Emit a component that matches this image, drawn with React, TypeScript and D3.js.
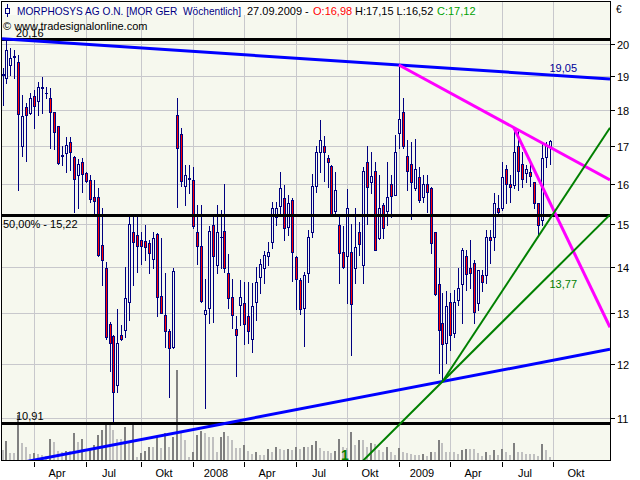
import React from "react";
import * as d3 from "d3";

// weekly candles, first week starts Monday 29.01.2007
const firstWeek = new Date(2007, 0, 29);

const opens = [19.02,18.93,19.34,19.58,19.43,16.98,18.08,17.90,18.41,18.27,
  18.63,18.50,18.34,17.93,17.53,16.72,16.80,17.11,16.69,16.22,
  16.57,16.28,16.09,15.65,15.65,14.51,13.99,12.78,12.54,11.60,
  12.56,12.66,13.25,14.80,14.74,14.61,14.60,14.54,14.18,14.76,
  13.37,12.97,12.65,12.33,17.86,17.32,15.94,16.15,16.09,14.82,
  14.47,12.98,13.11,14.97,14.05,14.68,14.83,13.86,13.34,12.69,
  13.18,13.21,12.95,12.48,13.25,13.79,13.99,14.26,14.57,15.16,
  15.44,15.64,14.92,15.58,14.22,13.72,13.11,13.88,14.82,15.94,
  16.82,16.99,16.66,16.45,15.31,14.97,14.35,14.26,14.35,13.99,
  14.80,14.05,16.55,16.05,16.32,14.66,15.47,15.32,15.98,15.72,
  17.34,17.95,16.71,16.52,15.89,16.16,15.65,15.98,15.89,14.80,
  13.62,12.80,12.40,13.25,12.61,13.29,13.63,14.24,13.99,14.09,
  13.22,13.83,13.82,14.70,14.70,15.38,15.39,16.39,15.99,15.96,
  16.99,16.50,16.28,16.30,16.05,15.50,15.09,16.69,16.98];

const highs = [19.24,20.16,19.87,19.81,19.66,18.43,18.19,18.49,18.58,18.83,
  18.96,18.68,18.65,17.95,17.55,16.98,17.25,17.23,16.73,16.64,
  16.66,16.30,16.22,16.09,15.88,15.38,14.12,12.83,12.56,13.10,
  12.76,14.01,15.17,15.17,15.17,14.82,14.97,14.62,14.82,14.78,
  14.66,13.86,12.69,13.98,18.34,17.48,16.49,16.48,16.43,15.46,
  15.46,13.73,14.94,15.17,15.47,15.34,16.00,14.29,13.73,12.94,
  13.72,13.68,13.68,13.65,14.01,14.18,14.36,14.58,15.54,15.54,
  16.30,15.96,15.71,15.63,14.24,13.75,13.89,14.86,16.26,17.00,
  17.71,17.27,16.75,16.48,16.30,15.17,14.94,15.86,14.99,15.40,
  15.05,16.43,16.98,16.84,16.57,16.22,15.50,16.57,16.22,17.29,
  19.34,18.34,17.16,17.11,17.17,16.43,16.22,16.22,15.92,14.82,
  13.97,13.43,13.47,13.43,13.50,13.97,14.43,14.39,14.62,14.16,
  13.93,13.93,14.86,14.86,15.75,15.71,16.57,16.48,16.22,17.50,
  17.40,16.84,16.48,16.57,16.05,15.50,17.07,17.11,17.15];

const lows = [18.14,18.78,19.04,18.93,15.83,16.71,16.59,17.88,17.48,17.86,
  17.90,18.34,16.95,16.91,16.52,16.48,16.30,16.35,15.29,15.38,
  15.79,16.05,15.54,15.21,14.24,13.61,12.49,11.85,10.91,11.46,
  12.46,12.53,12.87,13.61,13.90,14.08,14.16,13.88,13.97,12.94,
  13.00,12.32,11.37,12.30,15.42,15.94,15.46,15.75,14.90,14.08,
  13.25,11.17,12.80,12.82,13.86,13.97,13.90,13.11,12.70,11.77,
  12.76,12.38,12.40,12.22,12.87,13.43,13.65,14.05,14.43,14.97,
  15.25,14.62,14.74,13.70,13.10,12.99,12.35,13.68,14.70,15.79,
  16.30,16.07,15.92,15.21,15.21,13.65,13.97,13.21,12.17,13.64,
  14.27,13.64,15.01,15.75,14.39,14.65,14.66,14.97,15.17,15.71,
  16.95,16.93,15.83,15.13,15.83,15.54,15.54,15.29,14.31,13.40,
  11.82,11.66,12.01,12.26,12.53,13.18,12.80,13.50,13.54,12.80,
  13.08,13.47,13.64,14.09,14.39,15.21,15.33,15.50,15.54,15.88,
  15.83,15.92,16.05,15.94,15.38,14.74,14.97,16.43,16.52];

const closes = [19.06,19.81,19.55,19.63,17.88,17.83,17.86,18.34,18.10,18.68,
  18.66,18.48,17.93,17.38,16.54,16.74,17.02,16.82,16.13,16.52,
  16.26,16.07,15.60,15.56,14.27,14.16,12.53,12.40,11.46,12.40,
  12.49,13.32,15.01,14.58,14.47,14.49,14.46,14.33,14.66,13.34,
  13.02,12.64,12.30,13.91,16.93,16.07,16.22,16.11,14.96,14.49,
  13.27,13.07,14.83,14.26,14.80,14.70,13.97,13.32,12.97,12.56,
  13.34,12.78,12.65,13.15,13.68,14.06,14.27,14.35,15.38,15.38,
  15.88,14.90,15.50,14.35,13.74,13.09,13.83,14.69,15.93,16.82,
  17.15,16.84,16.57,15.25,15.83,14.33,14.01,15.40,13.20,14.45,
  14.52,16.32,15.92,16.19,14.40,15.38,14.90,15.67,15.69,16.82,
  17.73,16.98,16.33,16.03,16.39,15.58,15.99,15.79,14.54,13.41,
  12.67,12.38,13.15,12.56,13.25,13.54,14.40,13.85,13.86,13.04,
  13.93,13.67,14.70,14.62,15.50,15.28,16.18,15.98,15.92,16.82,
  16.32,16.13,16.39,16.19,15.50,14.97,16.68,16.98,17.12];

const volumes = [10,19,7,7,45,17,13,6,7,6,
  5,4,21,18,9,8,9,9,27,18,
  21,8,10,15,25,30,35,35,30,21,
  21,33,17,37,3,7,9,13,13,23,
  12,27,13,23,90,27,20,3,8,25,
  29,27,23,23,8,23,28,24,20,12,
  12,15,9,6,8,5,5,11,8,13,
  11,10,11,10,13,11,13,13,15,19,
  12,9,9,7,9,21,13,12,28,15,
  20,20,13,17,16,10,8,13,8,5,
  12,8,7,6,5,5,6,4,8,8,
  20,17,8,8,8,6,10,11,11,11,
  7,4,8,5,10,5,11,8,5,17,
  8,8,6,6,6,4,16,10,3];

const priceTicks = [11, 12, 13, 14, 15, 16, 17, 18, 19, 20];
const quarterNames = ["", "Apr", "Jul", "Okt"];

const levels = [20.16, 15.22, 10.91];
const levelPrefix = ["", "50,00% - ", ""];

// trend lines as [week index, price]
const trendStarts = [[1, 20.16], [111, 11.66], [100, 19.34], [129, 17.5], [111, 11.66], [111, 11.66]];
const trendEnds = [[100, 19.34], [138, 12.05], [129, 17.5], [153, 12.76], [153, 17.45], [153, 15.2]];
const trendLabelValues = [19.05, 13.77];

const L = 2, R = 610, T = 2, B = 460;
const font = "'Liberation Sans', Arial, sans-serif";
const navy = "#000080";

const trendStyle = [
  { color: "#0000ff", width: 3, left: true, right: true },
  { color: "#0000ff", width: 3, left: true, right: true },
  { color: "#ff00ff", width: 3, left: false, right: true },
  { color: "#ff00ff", width: 3, left: false, right: true },
  { color: "#008000", width: 2, left: false, right: true },
  { color: "#008000", width: 2, left: true, right: true },
];

const comma = (v: number) => d3.format(".2f")(v).replace(".", ",");

const App = () => {
  const x = d3.scaleLinear().domain([0, 138]).range([2.5, 549.5]);
  const y = d3.scaleLog().domain([20, 11]).range([44, 418]);
  const vy = d3.scaleLinear().domain([0, 90]).range([B, B - 90]);
  const cx = (i: number) => Math.round(x(i));
  const ry = (p: number) => Math.round(y(p));

  // quarter ticks sit on the week that holds the 1st of Jan/Apr/Jul/Oct
  const weeks = d3.range(0, 145).map((i) => d3.timeDay.offset(firstWeek, 7 * i));
  const ticks = weeks
    .map((d, i) => ({ i, m: d3.timeMonth.ceil(d), end: d3.timeDay.offset(d, 6) }))
    .filter((t) => t.m <= t.end && t.m.getMonth() % 3 === 0)
    .map((t) => ({
      i: t.i,
      label: t.m.getMonth() === 0 ? String(t.m.getFullYear()) : quarterNames[t.m.getMonth() / 3],
    }));

  const segs = trendStarts.map((a, k) => {
    const b = trendEnds[k];
    const st = trendStyle[k];
    const x1 = x(a[0]), y1 = y(a[1]), x2 = x(b[0]), y2 = y(b[1]);
    const s = (y2 - y1) / (x2 - x1);
    const xa = st.left ? L : x1;
    const xb = st.right ? R : x2;
    return { xa, ya: y1 + s * (xa - x1), xb, yb: y1 + s * (xb - x1), ...st };
  });

  return (
    <svg width={640} height={480} style={{ position: "absolute", left: 0, top: 0, display: "block" }}
      fontFamily={font} shapeRendering="crispEdges">
      <defs>
        <clipPath id="plot">
          <rect x={L} y={T} width={R - L} height={B - T} />
        </clipPath>
      </defs>
      <rect width={640} height={480} fill="#ffffff" />
      <rect x={L} y={T} width={R - L} height={B - T} fill="#f6f8ee" />

      {/* grid */}
      {priceTicks.map((p) => (
        <line key={"h" + p} x1={L} x2={R} y1={ry(p) + 0.5} y2={ry(p) + 0.5} stroke="#c8c8cc" />
      ))}
      {ticks.map((t) => (
        <line key={"v" + t.i} x1={cx(t.i) + 0.5} x2={cx(t.i) + 0.5} y1={T} y2={B} stroke="#c8c8cc" />
      ))}
      <rect x={L} y={T} width={477} height={13} fill="#fcfdf8" />

      {/* volume */}
      <g clipPath="url(#plot)">
        {volumes.map((v, i) => (
          <rect key={"vol" + i} x={cx(i) - 1} y={Math.round(vy(v))} width={2}
            height={B - Math.round(vy(v))}
            fill={i > 0 && v > volumes[i - 1] ? "#808080" : "#c0c0c0"} />
        ))}
      </g>

      {/* candles */}
      <g clipPath="url(#plot)">
        {opens.map((o, i) => {
          const c = closes[i];
          const c0 = cx(i);
          const top = ry(Math.max(o, c));
          const bot = ry(Math.min(o, c));
          return (
            <g key={"c" + i}>
              <line x1={c0 + 0.5} x2={c0 + 0.5} y1={ry(highs[i])} y2={ry(lows[i]) + 1} stroke={navy} />
              {bot - top < 1 ? (
                <line x1={c0 - 1} x2={c0 + 2} y1={top + 0.5} y2={top + 0.5} stroke={navy} />
              ) : (
                <rect x={c0 - 0.5} y={top + 0.5} width={2} height={bot - top}
                  fill={c < o ? "#ff0000" : "#f6f8ee"} stroke={navy} />
              )}
            </g>
          );
        })}
      </g>

      {/* horizontal levels */}
      {levels.map((p) => (
        <rect key={"lv" + p} x={L} y={ry(p) - 1} width={R - L} height={3} fill="#000000" />
      ))}

      {/* trend lines */}
      <g clipPath="url(#plot)" shapeRendering="auto">
        {segs.map((s, k) => (
          <line key={"t" + k} x1={s.xa} y1={s.ya} x2={s.xb} y2={s.yb} stroke={s.color}
            strokeWidth={s.width} />
        ))}
      </g>

      {/* frame */}
      <rect x={L - 0.5} y={T - 0.5} width={R - L + 1} height={B - T + 1} fill="none" stroke="#000000" />

      {/* right axis */}
      {priceTicks.map((p) => (
        <g key={"ra" + p}>
          <line x1={R} x2={R + 5} y1={ry(p) + 0.5} y2={ry(p) + 0.5} stroke="#000000" />
          <text x={R + 7} y={ry(p) + 4.5} fontSize={11} fill="#000000">{p}</text>
        </g>
      ))}
      <text x={616} y={13} fontSize={10} fill="#000000">€</text>

      {/* bottom axis */}
      {ticks.map((t) => (
        <g key={"ba" + t.i}>
          <line x1={cx(t.i) + 0.5} x2={cx(t.i) + 0.5} y1={B + 2} y2={B + 7} stroke="#000000" />
          <text x={cx(t.i) + 23} y={477} fontSize={11} textAnchor="middle" fill="#000000">{t.label}</text>
        </g>
      ))}

      {/* level labels */}
      <text x={16} y={ry(levels[0]) - 2} fontSize={11}>{levelPrefix[0] + comma(levels[0])}</text>
      <text x={3} y={ry(levels[1]) + 13} fontSize={11}>{levelPrefix[1] + comma(levels[1])}</text>
      <text x={16} y={ry(levels[2]) - 3} fontSize={11}>{levelPrefix[2] + comma(levels[2])}</text>

      {/* trend line labels */}
      <text x={x(138)} y={y(trendLabelValues[0]) - 2} fontSize={11} fill="#00009a">{comma(trendLabelValues[0])}</text>
      <text x={x(138)} y={y(trendLabelValues[1]) + 10.5} fontSize={11} fill="#008000">{comma(trendLabelValues[1])}</text>
      <text x={341} y={460} fontSize={14} fontWeight="bold" fill="#008000">1</text>

      {/* header */}
      <g stroke={navy} fill="none">
        <line x1={7.5} x2={7.5} y1={4} y2={17} />
        <rect x={5.5} y={8.5} width={4} height={5} fill="#fcfdf8" />
      </g>
      <text y={15} fontSize={11} style={{ whiteSpace: "pre" }}>
        <tspan x={17} fill={navy} textLength={224} lengthAdjust="spacingAndGlyphs">MORPHOSYS AG O.N. [MOR GER  Wöchentlich]</tspan>
        <tspan x={247} fill="#000000">27.09.2009 -</tspan>
        <tspan x={313} fill="#ff0000">O:{comma(opens[138])}</tspan>
        <tspan x={355} fill="#000000">H:{comma(highs[138])} L:{comma(lows[138])}</tspan>
        <tspan x={437} fill="#00a000">C:{comma(closes[138])}</tspan>
      </text>
      <text x={3} y={30} fontSize={11} fill="#000000">© www.tradesignalonline.com</text>
    </svg>
  );
};

export default App;
